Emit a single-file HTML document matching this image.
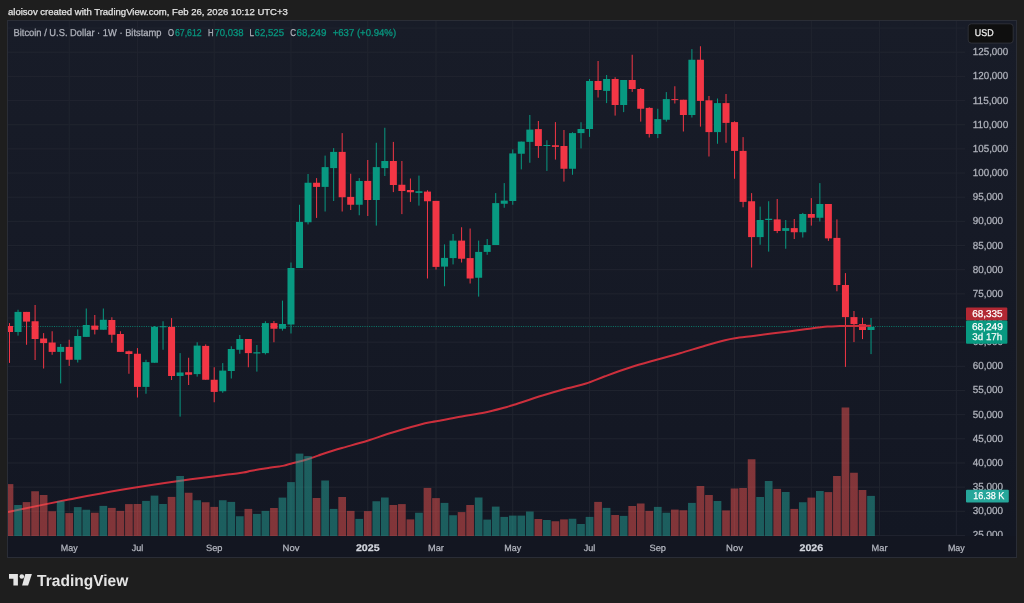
<!DOCTYPE html>
<html><head><meta charset="utf-8"><title>BTCUSD 1W</title>
<style>
html,body{margin:0;padding:0;background:#1e1e1e;}
body{width:1024px;height:603px;overflow:hidden;position:relative;font-family:"Liberation Sans",sans-serif;}
#title{position:absolute;left:8px;top:5.6px;font-size:9.54px;line-height:12px;color:#e4e4e4;white-space:nowrap;will-change:transform;-webkit-text-stroke:0.25px #e4e4e4;}
#chart{position:absolute;left:7px;top:20px;width:1008px;height:536px;border:1px solid #2a2d36;background:#131621;}
#pane{position:absolute;left:0;top:0;width:957px;height:515px;background:linear-gradient(#181c28,#131723);}
#paxis{position:absolute;left:957px;top:0;width:51px;height:515px;background:linear-gradient(#181c28,#131723);}
svg{position:absolute;left:0;top:0;will-change:transform;}
text{font-family:"Liberation Sans",sans-serif;text-rendering:geometricPrecision;}
</style></head><body>
<div id="title">aloisov created with TradingView.com, Feb 26, 2026 10:12 UTC+3</div>
<div id="chart"><div id="pane"></div><div id="paxis"></div></div>
<svg width="1024" height="603" viewBox="0 0 1024 603">
<defs><clipPath id="cp"><rect x="8" y="21" width="957" height="515"/></clipPath></defs>
<g stroke="#20242f" stroke-width="1" clip-path="url(#cp)">
<line x1="8" x2="965" y1="28.09" y2="28.09"/>
<line x1="8" x2="965" y1="52.25" y2="52.25"/>
<line x1="8" x2="965" y1="76.41" y2="76.41"/>
<line x1="8" x2="965" y1="100.57" y2="100.57"/>
<line x1="8" x2="965" y1="124.73" y2="124.73"/>
<line x1="8" x2="965" y1="148.89" y2="148.89"/>
<line x1="8" x2="965" y1="173.05" y2="173.05"/>
<line x1="8" x2="965" y1="197.21" y2="197.21"/>
<line x1="8" x2="965" y1="221.37" y2="221.37"/>
<line x1="8" x2="965" y1="245.53" y2="245.53"/>
<line x1="8" x2="965" y1="269.69" y2="269.69"/>
<line x1="8" x2="965" y1="293.85" y2="293.85"/>
<line x1="8" x2="965" y1="318.01" y2="318.01"/>
<line x1="8" x2="965" y1="342.17" y2="342.17"/>
<line x1="8" x2="965" y1="366.33" y2="366.33"/>
<line x1="8" x2="965" y1="390.49" y2="390.49"/>
<line x1="8" x2="965" y1="414.65" y2="414.65"/>
<line x1="8" x2="965" y1="438.81" y2="438.81"/>
<line x1="8" x2="965" y1="462.97" y2="462.97"/>
<line x1="8" x2="965" y1="487.13" y2="487.13"/>
<line x1="8" x2="965" y1="511.29" y2="511.29"/>
<line x1="8" x2="965" y1="535.45" y2="535.45"/>
<line x1="69.21" x2="69.21" y1="21" y2="536"/>
<line x1="137.45" x2="137.45" y1="21" y2="536"/>
<line x1="214.22" x2="214.22" y1="21" y2="536"/>
<line x1="290.99" x2="290.99" y1="21" y2="536"/>
<line x1="367.76" x2="367.76" y1="21" y2="536"/>
<line x1="436.00" x2="436.00" y1="21" y2="536"/>
<line x1="512.77" x2="512.77" y1="21" y2="536"/>
<line x1="589.54" x2="589.54" y1="21" y2="536"/>
<line x1="657.78" x2="657.78" y1="21" y2="536"/>
<line x1="734.55" x2="734.55" y1="21" y2="536"/>
<line x1="811.32" x2="811.32" y1="21" y2="536"/>
<line x1="879.56" x2="879.56" y1="21" y2="536"/>
<line x1="956.33" x2="956.33" y1="21" y2="536"/>
</g>
<line x1="8" x2="965" y1="326.5" y2="326.5" stroke="#089981" stroke-opacity="0.75" stroke-width="1" stroke-dasharray="1 1.3"/>
<g clip-path="url(#cp)">
<rect x="9.00" y="323.10" width="1" height="39.80" fill="#f23645"/><rect x="6.00" y="326.00" width="7" height="6.00" fill="#f23645"/>
<rect x="17.53" y="309.75" width="1" height="25.85" fill="#089981"/><rect x="14.53" y="311.90" width="7" height="20.10" fill="#089981"/>
<rect x="26.06" y="311.90" width="1" height="32.85" fill="#f23645"/><rect x="23.06" y="311.90" width="7" height="9.70" fill="#f23645"/>
<rect x="34.59" y="305.00" width="1" height="55.00" fill="#f23645"/><rect x="31.59" y="321.25" width="7" height="17.75" fill="#f23645"/>
<rect x="43.12" y="333.10" width="1" height="35.40" fill="#f23645"/><rect x="40.12" y="338.50" width="7" height="4.60" fill="#f23645"/>
<rect x="51.65" y="331.25" width="1" height="23.50" fill="#f23645"/><rect x="48.65" y="342.50" width="7" height="9.40" fill="#f23645"/>
<rect x="60.18" y="344.00" width="1" height="39.40" fill="#089981"/><rect x="57.18" y="346.90" width="7" height="5.00" fill="#089981"/>
<rect x="68.71" y="339.75" width="1" height="26.15" fill="#f23645"/><rect x="65.71" y="346.90" width="7" height="12.85" fill="#f23645"/>
<rect x="77.24" y="329.40" width="1" height="33.10" fill="#089981"/><rect x="74.24" y="336.00" width="7" height="23.75" fill="#089981"/>
<rect x="85.77" y="308.50" width="1" height="28.40" fill="#089981"/><rect x="82.77" y="325.00" width="7" height="11.90" fill="#089981"/>
<rect x="94.30" y="315.00" width="1" height="19.40" fill="#f23645"/><rect x="91.30" y="325.60" width="7" height="4.15" fill="#f23645"/>
<rect x="102.83" y="308.50" width="1" height="21.25" fill="#089981"/><rect x="99.83" y="319.75" width="7" height="10.00" fill="#089981"/>
<rect x="111.36" y="317.25" width="1" height="25.50" fill="#f23645"/><rect x="108.36" y="320.00" width="7" height="14.75" fill="#f23645"/>
<rect x="119.89" y="331.25" width="1" height="20.65" fill="#f23645"/><rect x="116.89" y="334.00" width="7" height="17.90" fill="#f23645"/>
<rect x="128.42" y="350.60" width="1" height="23.15" fill="#f23645"/><rect x="125.42" y="351.25" width="7" height="2.75" fill="#f23645"/>
<rect x="136.95" y="348.10" width="1" height="49.40" fill="#f23645"/><rect x="133.95" y="353.75" width="7" height="33.15" fill="#f23645"/>
<rect x="145.48" y="359.75" width="1" height="34.00" fill="#089981"/><rect x="142.48" y="362.10" width="7" height="24.80" fill="#089981"/>
<rect x="154.01" y="326.00" width="1" height="36.75" fill="#089981"/><rect x="151.01" y="326.90" width="7" height="35.85" fill="#089981"/>
<rect x="162.54" y="321.25" width="1" height="28.50" fill="#089981"/><rect x="159.54" y="326.25" width="7" height="1.00" fill="#089981"/>
<rect x="171.07" y="318.10" width="1" height="61.90" fill="#f23645"/><rect x="168.07" y="326.90" width="7" height="49.10" fill="#f23645"/>
<rect x="179.60" y="353.10" width="1" height="63.50" fill="#089981"/><rect x="176.60" y="372.50" width="7" height="3.50" fill="#089981"/>
<rect x="188.13" y="357.75" width="1" height="27.25" fill="#f23645"/><rect x="185.13" y="372.25" width="7" height="2.50" fill="#f23645"/>
<rect x="196.66" y="342.25" width="1" height="34.35" fill="#089981"/><rect x="193.66" y="345.60" width="7" height="28.50" fill="#089981"/>
<rect x="205.19" y="344.40" width="1" height="35.35" fill="#f23645"/><rect x="202.19" y="345.90" width="7" height="33.85" fill="#f23645"/>
<rect x="213.72" y="367.25" width="1" height="35.00" fill="#f23645"/><rect x="210.72" y="379.75" width="7" height="12.15" fill="#f23645"/>
<rect x="222.25" y="363.10" width="1" height="29.65" fill="#089981"/><rect x="219.25" y="370.60" width="7" height="20.65" fill="#089981"/>
<rect x="230.78" y="346.25" width="1" height="32.25" fill="#089981"/><rect x="227.78" y="349.00" width="7" height="22.00" fill="#089981"/>
<rect x="239.31" y="335.00" width="1" height="18.75" fill="#089981"/><rect x="236.31" y="339.00" width="7" height="10.75" fill="#089981"/>
<rect x="247.84" y="339.00" width="1" height="28.25" fill="#f23645"/><rect x="244.84" y="339.00" width="7" height="14.10" fill="#f23645"/>
<rect x="256.37" y="345.00" width="1" height="26.60" fill="#089981"/><rect x="253.37" y="352.25" width="7" height="1.25" fill="#089981"/>
<rect x="264.90" y="321.25" width="1" height="33.15" fill="#089981"/><rect x="261.90" y="323.10" width="7" height="30.00" fill="#089981"/>
<rect x="273.43" y="321.00" width="1" height="21.25" fill="#f23645"/><rect x="270.43" y="323.10" width="7" height="5.65" fill="#f23645"/>
<rect x="281.96" y="300.60" width="1" height="30.00" fill="#089981"/><rect x="278.96" y="324.00" width="7" height="4.75" fill="#089981"/>
<rect x="290.49" y="262.50" width="1" height="71.00" fill="#089981"/><rect x="287.49" y="268.00" width="7" height="56.50" fill="#089981"/>
<rect x="299.02" y="204.75" width="1" height="63.25" fill="#089981"/><rect x="296.02" y="221.90" width="7" height="46.10" fill="#089981"/>
<rect x="307.55" y="174.00" width="1" height="50.40" fill="#089981"/><rect x="304.55" y="182.75" width="7" height="39.50" fill="#089981"/>
<rect x="316.08" y="178.10" width="1" height="39.80" fill="#f23645"/><rect x="313.08" y="182.75" width="7" height="4.15" fill="#f23645"/>
<rect x="324.61" y="155.60" width="1" height="55.90" fill="#089981"/><rect x="321.61" y="167.10" width="7" height="19.80" fill="#089981"/>
<rect x="333.14" y="148.10" width="1" height="52.90" fill="#089981"/><rect x="330.14" y="151.90" width="7" height="16.20" fill="#089981"/>
<rect x="341.67" y="133.10" width="1" height="78.40" fill="#f23645"/><rect x="338.67" y="151.90" width="7" height="45.35" fill="#f23645"/>
<rect x="350.20" y="173.75" width="1" height="36.25" fill="#f23645"/><rect x="347.20" y="196.90" width="7" height="7.85" fill="#f23645"/>
<rect x="358.73" y="178.10" width="1" height="37.15" fill="#089981"/><rect x="355.73" y="181.00" width="7" height="23.75" fill="#089981"/>
<rect x="367.26" y="160.00" width="1" height="56.00" fill="#f23645"/><rect x="364.26" y="180.90" width="7" height="19.10" fill="#f23645"/>
<rect x="375.79" y="142.75" width="1" height="82.85" fill="#089981"/><rect x="372.79" y="167.10" width="7" height="32.90" fill="#089981"/>
<rect x="384.32" y="127.75" width="1" height="48.25" fill="#089981"/><rect x="381.32" y="161.00" width="7" height="7.10" fill="#089981"/>
<rect x="392.85" y="141.90" width="1" height="50.20" fill="#f23645"/><rect x="389.85" y="161.00" width="7" height="24.00" fill="#f23645"/>
<rect x="401.38" y="161.00" width="1" height="53.10" fill="#f23645"/><rect x="398.38" y="184.75" width="7" height="6.25" fill="#f23645"/>
<rect x="409.91" y="178.50" width="1" height="23.40" fill="#f23645"/><rect x="406.91" y="190.00" width="7" height="2.25" fill="#f23645"/>
<rect x="418.44" y="175.60" width="1" height="30.00" fill="#089981"/><rect x="415.44" y="191.25" width="7" height="1.65" fill="#089981"/>
<rect x="426.97" y="190.25" width="1" height="88.25" fill="#f23645"/><rect x="423.97" y="191.60" width="7" height="9.65" fill="#f23645"/>
<rect x="435.50" y="200.90" width="1" height="68.70" fill="#f23645"/><rect x="432.50" y="200.90" width="7" height="66.00" fill="#f23645"/>
<rect x="444.03" y="244.40" width="1" height="41.85" fill="#089981"/><rect x="441.03" y="257.90" width="7" height="8.70" fill="#089981"/>
<rect x="452.56" y="234.00" width="1" height="30.40" fill="#089981"/><rect x="449.56" y="240.60" width="7" height="17.50" fill="#089981"/>
<rect x="461.09" y="227.25" width="1" height="35.25" fill="#f23645"/><rect x="458.09" y="240.60" width="7" height="18.15" fill="#f23645"/>
<rect x="469.62" y="228.50" width="1" height="55.00" fill="#f23645"/><rect x="466.62" y="258.10" width="7" height="20.40" fill="#f23645"/>
<rect x="478.15" y="240.60" width="1" height="56.00" fill="#089981"/><rect x="475.15" y="251.90" width="7" height="25.85" fill="#089981"/>
<rect x="486.68" y="239.00" width="1" height="15.75" fill="#089981"/><rect x="483.68" y="245.00" width="7" height="6.90" fill="#089981"/>
<rect x="495.21" y="193.10" width="1" height="51.90" fill="#089981"/><rect x="492.21" y="203.10" width="7" height="41.90" fill="#089981"/>
<rect x="503.74" y="183.10" width="1" height="24.65" fill="#089981"/><rect x="500.74" y="200.60" width="7" height="3.15" fill="#089981"/>
<rect x="512.27" y="149.40" width="1" height="55.35" fill="#089981"/><rect x="509.27" y="153.40" width="7" height="47.60" fill="#089981"/>
<rect x="520.80" y="141.60" width="1" height="27.80" fill="#089981"/><rect x="517.80" y="141.60" width="7" height="12.15" fill="#089981"/>
<rect x="529.33" y="115.00" width="1" height="47.75" fill="#089981"/><rect x="526.33" y="129.60" width="7" height="12.30" fill="#089981"/>
<rect x="537.86" y="121.00" width="1" height="36.90" fill="#f23645"/><rect x="534.86" y="129.10" width="7" height="16.90" fill="#f23645"/>
<rect x="546.39" y="140.25" width="1" height="30.65" fill="#089981"/><rect x="543.39" y="145.00" width="7" height="1.00" fill="#089981"/>
<rect x="554.92" y="122.10" width="1" height="37.50" fill="#f23645"/><rect x="551.92" y="145.25" width="7" height="1.65" fill="#f23645"/>
<rect x="563.45" y="130.00" width="1" height="51.60" fill="#f23645"/><rect x="560.45" y="146.00" width="7" height="22.75" fill="#f23645"/>
<rect x="571.98" y="132.25" width="1" height="42.50" fill="#089981"/><rect x="568.98" y="133.10" width="7" height="35.65" fill="#089981"/>
<rect x="580.51" y="122.25" width="1" height="26.15" fill="#089981"/><rect x="577.51" y="129.00" width="7" height="4.10" fill="#089981"/>
<rect x="589.04" y="79.00" width="1" height="57.90" fill="#089981"/><rect x="586.04" y="81.00" width="7" height="48.00" fill="#089981"/>
<rect x="597.57" y="61.00" width="1" height="36.50" fill="#f23645"/><rect x="594.57" y="81.00" width="7" height="9.00" fill="#f23645"/>
<rect x="606.10" y="75.00" width="1" height="28.10" fill="#089981"/><rect x="603.10" y="79.00" width="7" height="11.90" fill="#089981"/>
<rect x="614.63" y="77.25" width="1" height="38.35" fill="#f23645"/><rect x="611.63" y="79.00" width="7" height="26.00" fill="#f23645"/>
<rect x="623.16" y="80.00" width="1" height="32.10" fill="#089981"/><rect x="620.16" y="80.00" width="7" height="25.00" fill="#089981"/>
<rect x="631.69" y="54.75" width="1" height="37.15" fill="#f23645"/><rect x="628.69" y="80.00" width="7" height="9.00" fill="#f23645"/>
<rect x="640.22" y="88.10" width="1" height="33.50" fill="#f23645"/><rect x="637.22" y="89.00" width="7" height="19.75" fill="#f23645"/>
<rect x="648.75" y="107.25" width="1" height="30.25" fill="#f23645"/><rect x="645.75" y="107.90" width="7" height="26.10" fill="#f23645"/>
<rect x="657.28" y="108.75" width="1" height="29.35" fill="#089981"/><rect x="654.28" y="119.10" width="7" height="14.90" fill="#089981"/>
<rect x="665.81" y="92.10" width="1" height="29.50" fill="#089981"/><rect x="662.81" y="99.10" width="7" height="20.65" fill="#089981"/>
<rect x="674.34" y="86.25" width="1" height="17.25" fill="#f23645"/><rect x="671.34" y="99.10" width="7" height="1.00" fill="#f23645"/>
<rect x="682.87" y="99.75" width="1" height="31.75" fill="#f23645"/><rect x="679.87" y="99.75" width="7" height="15.25" fill="#f23645"/>
<rect x="691.40" y="49.10" width="1" height="68.40" fill="#089981"/><rect x="688.40" y="59.75" width="7" height="55.25" fill="#089981"/>
<rect x="699.93" y="46.25" width="1" height="80.35" fill="#f23645"/><rect x="696.93" y="59.75" width="7" height="41.15" fill="#f23645"/>
<rect x="708.46" y="96.00" width="1" height="60.50" fill="#f23645"/><rect x="705.46" y="100.30" width="7" height="31.80" fill="#f23645"/>
<rect x="716.99" y="98.50" width="1" height="45.25" fill="#089981"/><rect x="713.99" y="103.10" width="7" height="29.00" fill="#089981"/>
<rect x="725.52" y="94.00" width="1" height="48.75" fill="#f23645"/><rect x="722.52" y="103.10" width="7" height="19.80" fill="#f23645"/>
<rect x="734.05" y="121.25" width="1" height="57.50" fill="#f23645"/><rect x="731.05" y="122.10" width="7" height="28.80" fill="#f23645"/>
<rect x="742.58" y="137.10" width="1" height="70.15" fill="#f23645"/><rect x="739.58" y="150.90" width="7" height="51.00" fill="#f23645"/>
<rect x="751.11" y="193.10" width="1" height="74.40" fill="#f23645"/><rect x="748.11" y="201.25" width="7" height="35.85" fill="#f23645"/>
<rect x="759.64" y="206.60" width="1" height="38.15" fill="#089981"/><rect x="756.64" y="220.00" width="7" height="17.10" fill="#089981"/>
<rect x="768.17" y="201.25" width="1" height="50.35" fill="#089981"/><rect x="765.17" y="218.75" width="7" height="1.25" fill="#089981"/>
<rect x="776.70" y="199.00" width="1" height="34.10" fill="#f23645"/><rect x="773.70" y="219.40" width="7" height="11.60" fill="#f23645"/>
<rect x="785.23" y="220.00" width="1" height="28.75" fill="#089981"/><rect x="782.23" y="228.10" width="7" height="2.80" fill="#089981"/>
<rect x="793.76" y="219.00" width="1" height="20.00" fill="#f23645"/><rect x="790.76" y="228.10" width="7" height="4.15" fill="#f23645"/>
<rect x="802.29" y="212.90" width="1" height="24.60" fill="#089981"/><rect x="799.29" y="214.00" width="7" height="18.25" fill="#089981"/>
<rect x="810.82" y="198.10" width="1" height="27.50" fill="#f23645"/><rect x="807.82" y="214.00" width="7" height="3.75" fill="#f23645"/>
<rect x="819.35" y="183.10" width="1" height="38.40" fill="#089981"/><rect x="816.35" y="204.00" width="7" height="13.75" fill="#089981"/>
<rect x="827.88" y="204.00" width="1" height="36.90" fill="#f23645"/><rect x="824.88" y="204.00" width="7" height="34.40" fill="#f23645"/>
<rect x="836.41" y="219.40" width="1" height="71.85" fill="#f23645"/><rect x="833.41" y="237.90" width="7" height="47.10" fill="#f23645"/>
<rect x="844.94" y="273.10" width="1" height="93.80" fill="#f23645"/><rect x="841.94" y="285.00" width="7" height="32.10" fill="#f23645"/>
<rect x="853.47" y="311.00" width="1" height="31.10" fill="#f23645"/><rect x="850.47" y="317.10" width="7" height="7.00" fill="#f23645"/>
<rect x="862.00" y="317.75" width="1" height="21.35" fill="#f23645"/><rect x="859.00" y="324.10" width="7" height="5.90" fill="#f23645"/>
<rect x="870.53" y="318.00" width="1" height="36.10" fill="#089981"/><rect x="867.53" y="326.90" width="7" height="3.10" fill="#089981"/>
<path d="M8.00 511.90C18.12 509.85 50.08 503.25 68.75 499.60C87.42 495.95 100.79 493.23 120.00 490.00C139.21 486.77 164.00 483.08 184.00 480.25C204.00 477.42 229.03 474.53 240.00 473.00C250.97 471.47 246.55 471.67 249.80 471.05C253.05 470.43 256.25 469.84 259.50 469.30C262.75 468.76 266.05 468.28 269.30 467.80C272.55 467.32 276.55 466.77 279.00 466.40C281.45 466.03 282.03 466.05 284.00 465.60C285.97 465.15 288.37 464.35 290.80 463.70C293.23 463.05 295.67 462.48 298.60 461.70C301.53 460.92 305.15 460.02 308.40 459.00C311.65 457.98 314.85 456.73 318.10 455.60C321.35 454.47 323.92 453.47 327.90 452.20C331.88 450.93 335.40 449.91 342.00 448.00C348.60 446.09 359.08 443.33 367.50 440.75C375.92 438.17 382.92 435.42 392.50 432.50C402.08 429.58 417.71 425.12 425.00 423.25C432.29 421.38 430.42 422.33 436.25 421.25C442.08 420.17 451.88 418.21 460.00 416.75C468.12 415.29 477.50 414.04 485.00 412.50C492.50 410.96 500.42 408.71 505.00 407.50C509.58 406.29 506.25 407.25 512.50 405.25C518.75 403.25 533.33 398.33 542.50 395.50C551.67 392.67 560.25 390.25 567.50 388.25C574.75 386.25 579.75 385.50 586.00 383.50C592.25 381.50 597.67 378.92 605.00 376.25C612.33 373.58 621.25 370.29 630.00 367.50C638.75 364.71 649.17 361.88 657.50 359.50C665.83 357.12 672.08 355.54 680.00 353.25C687.92 350.96 697.50 347.92 705.00 345.75C712.50 343.58 720.00 341.50 725.00 340.25C730.00 339.00 730.00 339.00 735.00 338.25C740.00 337.50 747.50 336.71 755.00 335.75C762.50 334.79 771.67 333.58 780.00 332.50C788.33 331.42 797.08 330.23 805.00 329.25C812.92 328.27 821.67 327.12 827.50 326.60C833.33 326.08 832.75 326.23 840.00 326.10C847.25 325.97 865.83 325.85 871.00 325.80" fill="none" stroke="#cc2f3c" stroke-width="2" stroke-linejoin="round" stroke-linecap="butt"/>
<rect x="5.65" y="484.10" width="7.7" height="51.90" fill="#ef5350" fill-opacity="0.5"/>
<rect x="14.18" y="505.00" width="7.7" height="31.00" fill="#26a69a" fill-opacity="0.5"/>
<rect x="22.71" y="502.10" width="7.7" height="33.90" fill="#ef5350" fill-opacity="0.5"/>
<rect x="31.24" y="491.25" width="7.7" height="44.75" fill="#ef5350" fill-opacity="0.5"/>
<rect x="39.77" y="495.00" width="7.7" height="41.00" fill="#ef5350" fill-opacity="0.5"/>
<rect x="48.30" y="511.25" width="7.7" height="24.75" fill="#ef5350" fill-opacity="0.5"/>
<rect x="56.83" y="501.25" width="7.7" height="34.75" fill="#26a69a" fill-opacity="0.5"/>
<rect x="65.36" y="513.10" width="7.7" height="22.90" fill="#ef5350" fill-opacity="0.5"/>
<rect x="73.89" y="507.10" width="7.7" height="28.90" fill="#26a69a" fill-opacity="0.5"/>
<rect x="82.42" y="509.75" width="7.7" height="26.25" fill="#26a69a" fill-opacity="0.5"/>
<rect x="90.95" y="512.75" width="7.7" height="23.25" fill="#ef5350" fill-opacity="0.5"/>
<rect x="99.48" y="505.90" width="7.7" height="30.10" fill="#26a69a" fill-opacity="0.5"/>
<rect x="108.01" y="507.90" width="7.7" height="28.10" fill="#ef5350" fill-opacity="0.5"/>
<rect x="116.54" y="510.90" width="7.7" height="25.10" fill="#ef5350" fill-opacity="0.5"/>
<rect x="125.07" y="504.10" width="7.7" height="31.90" fill="#ef5350" fill-opacity="0.5"/>
<rect x="133.60" y="504.00" width="7.7" height="32.00" fill="#ef5350" fill-opacity="0.5"/>
<rect x="142.13" y="500.90" width="7.7" height="35.10" fill="#26a69a" fill-opacity="0.5"/>
<rect x="150.66" y="495.60" width="7.7" height="40.40" fill="#26a69a" fill-opacity="0.5"/>
<rect x="159.19" y="504.00" width="7.7" height="32.00" fill="#26a69a" fill-opacity="0.5"/>
<rect x="167.72" y="496.90" width="7.7" height="39.10" fill="#ef5350" fill-opacity="0.5"/>
<rect x="176.25" y="476.00" width="7.7" height="60.00" fill="#26a69a" fill-opacity="0.5"/>
<rect x="184.78" y="492.75" width="7.7" height="43.25" fill="#ef5350" fill-opacity="0.5"/>
<rect x="193.31" y="500.25" width="7.7" height="35.75" fill="#26a69a" fill-opacity="0.5"/>
<rect x="201.84" y="502.25" width="7.7" height="33.75" fill="#ef5350" fill-opacity="0.5"/>
<rect x="210.37" y="506.90" width="7.7" height="29.10" fill="#ef5350" fill-opacity="0.5"/>
<rect x="218.90" y="500.25" width="7.7" height="35.75" fill="#26a69a" fill-opacity="0.5"/>
<rect x="227.43" y="501.90" width="7.7" height="34.10" fill="#26a69a" fill-opacity="0.5"/>
<rect x="235.96" y="516.25" width="7.7" height="19.75" fill="#26a69a" fill-opacity="0.5"/>
<rect x="244.49" y="508.90" width="7.7" height="27.10" fill="#ef5350" fill-opacity="0.5"/>
<rect x="253.02" y="513.90" width="7.7" height="22.10" fill="#26a69a" fill-opacity="0.5"/>
<rect x="261.55" y="510.90" width="7.7" height="25.10" fill="#26a69a" fill-opacity="0.5"/>
<rect x="270.08" y="508.00" width="7.7" height="28.00" fill="#ef5350" fill-opacity="0.5"/>
<rect x="278.61" y="497.60" width="7.7" height="38.40" fill="#26a69a" fill-opacity="0.5"/>
<rect x="287.14" y="482.10" width="7.7" height="53.90" fill="#26a69a" fill-opacity="0.5"/>
<rect x="295.67" y="453.60" width="7.7" height="82.40" fill="#26a69a" fill-opacity="0.5"/>
<rect x="304.20" y="456.10" width="7.7" height="79.90" fill="#26a69a" fill-opacity="0.5"/>
<rect x="312.73" y="498.00" width="7.7" height="38.00" fill="#ef5350" fill-opacity="0.5"/>
<rect x="321.26" y="480.50" width="7.7" height="55.50" fill="#26a69a" fill-opacity="0.5"/>
<rect x="329.79" y="508.90" width="7.7" height="27.10" fill="#26a69a" fill-opacity="0.5"/>
<rect x="338.32" y="497.00" width="7.7" height="39.00" fill="#ef5350" fill-opacity="0.5"/>
<rect x="346.85" y="510.90" width="7.7" height="25.10" fill="#ef5350" fill-opacity="0.5"/>
<rect x="355.38" y="518.90" width="7.7" height="17.10" fill="#26a69a" fill-opacity="0.5"/>
<rect x="363.91" y="511.10" width="7.7" height="24.90" fill="#ef5350" fill-opacity="0.5"/>
<rect x="372.44" y="501.25" width="7.7" height="34.75" fill="#26a69a" fill-opacity="0.5"/>
<rect x="380.97" y="497.50" width="7.7" height="38.50" fill="#26a69a" fill-opacity="0.5"/>
<rect x="389.50" y="505.00" width="7.7" height="31.00" fill="#ef5350" fill-opacity="0.5"/>
<rect x="398.03" y="504.10" width="7.7" height="31.90" fill="#ef5350" fill-opacity="0.5"/>
<rect x="406.56" y="519.40" width="7.7" height="16.60" fill="#ef5350" fill-opacity="0.5"/>
<rect x="415.09" y="512.75" width="7.7" height="23.25" fill="#26a69a" fill-opacity="0.5"/>
<rect x="423.62" y="487.90" width="7.7" height="48.10" fill="#ef5350" fill-opacity="0.5"/>
<rect x="432.15" y="498.10" width="7.7" height="37.90" fill="#ef5350" fill-opacity="0.5"/>
<rect x="440.68" y="502.90" width="7.7" height="33.10" fill="#26a69a" fill-opacity="0.5"/>
<rect x="449.21" y="515.25" width="7.7" height="20.75" fill="#26a69a" fill-opacity="0.5"/>
<rect x="457.74" y="512.10" width="7.7" height="23.90" fill="#ef5350" fill-opacity="0.5"/>
<rect x="466.27" y="505.00" width="7.7" height="31.00" fill="#ef5350" fill-opacity="0.5"/>
<rect x="474.80" y="497.50" width="7.7" height="38.50" fill="#26a69a" fill-opacity="0.5"/>
<rect x="483.33" y="519.60" width="7.7" height="16.40" fill="#26a69a" fill-opacity="0.5"/>
<rect x="491.86" y="506.60" width="7.7" height="29.40" fill="#26a69a" fill-opacity="0.5"/>
<rect x="500.39" y="516.90" width="7.7" height="19.10" fill="#26a69a" fill-opacity="0.5"/>
<rect x="508.92" y="515.60" width="7.7" height="20.40" fill="#26a69a" fill-opacity="0.5"/>
<rect x="517.45" y="515.60" width="7.7" height="20.40" fill="#26a69a" fill-opacity="0.5"/>
<rect x="525.98" y="511.50" width="7.7" height="24.50" fill="#26a69a" fill-opacity="0.5"/>
<rect x="534.51" y="519.00" width="7.7" height="17.00" fill="#ef5350" fill-opacity="0.5"/>
<rect x="543.04" y="520.00" width="7.7" height="16.00" fill="#26a69a" fill-opacity="0.5"/>
<rect x="551.57" y="521.25" width="7.7" height="14.75" fill="#ef5350" fill-opacity="0.5"/>
<rect x="560.10" y="519.40" width="7.7" height="16.60" fill="#ef5350" fill-opacity="0.5"/>
<rect x="568.63" y="518.75" width="7.7" height="17.25" fill="#26a69a" fill-opacity="0.5"/>
<rect x="577.16" y="524.00" width="7.7" height="12.00" fill="#26a69a" fill-opacity="0.5"/>
<rect x="585.69" y="516.90" width="7.7" height="19.10" fill="#26a69a" fill-opacity="0.5"/>
<rect x="594.22" y="501.90" width="7.7" height="34.10" fill="#ef5350" fill-opacity="0.5"/>
<rect x="602.75" y="507.90" width="7.7" height="28.10" fill="#26a69a" fill-opacity="0.5"/>
<rect x="611.28" y="515.00" width="7.7" height="21.00" fill="#ef5350" fill-opacity="0.5"/>
<rect x="619.81" y="515.90" width="7.7" height="20.10" fill="#26a69a" fill-opacity="0.5"/>
<rect x="628.34" y="506.00" width="7.7" height="30.00" fill="#ef5350" fill-opacity="0.5"/>
<rect x="636.87" y="503.50" width="7.7" height="32.50" fill="#ef5350" fill-opacity="0.5"/>
<rect x="645.40" y="510.90" width="7.7" height="25.10" fill="#ef5350" fill-opacity="0.5"/>
<rect x="653.93" y="506.90" width="7.7" height="29.10" fill="#26a69a" fill-opacity="0.5"/>
<rect x="662.46" y="512.75" width="7.7" height="23.25" fill="#26a69a" fill-opacity="0.5"/>
<rect x="670.99" y="509.60" width="7.7" height="26.40" fill="#ef5350" fill-opacity="0.5"/>
<rect x="679.52" y="510.25" width="7.7" height="25.75" fill="#ef5350" fill-opacity="0.5"/>
<rect x="688.05" y="502.90" width="7.7" height="33.10" fill="#26a69a" fill-opacity="0.5"/>
<rect x="696.58" y="486.00" width="7.7" height="50.00" fill="#ef5350" fill-opacity="0.5"/>
<rect x="705.11" y="495.00" width="7.7" height="41.00" fill="#ef5350" fill-opacity="0.5"/>
<rect x="713.64" y="501.00" width="7.7" height="35.00" fill="#26a69a" fill-opacity="0.5"/>
<rect x="722.17" y="510.40" width="7.7" height="25.60" fill="#ef5350" fill-opacity="0.5"/>
<rect x="730.70" y="488.50" width="7.7" height="47.50" fill="#ef5350" fill-opacity="0.5"/>
<rect x="739.23" y="488.00" width="7.7" height="48.00" fill="#ef5350" fill-opacity="0.5"/>
<rect x="747.76" y="459.25" width="7.7" height="76.75" fill="#ef5350" fill-opacity="0.5"/>
<rect x="756.29" y="497.00" width="7.7" height="39.00" fill="#26a69a" fill-opacity="0.5"/>
<rect x="764.82" y="481.00" width="7.7" height="55.00" fill="#26a69a" fill-opacity="0.5"/>
<rect x="773.35" y="488.90" width="7.7" height="47.10" fill="#ef5350" fill-opacity="0.5"/>
<rect x="781.88" y="492.00" width="7.7" height="44.00" fill="#26a69a" fill-opacity="0.5"/>
<rect x="790.41" y="508.90" width="7.7" height="27.10" fill="#ef5350" fill-opacity="0.5"/>
<rect x="798.94" y="502.25" width="7.7" height="33.75" fill="#26a69a" fill-opacity="0.5"/>
<rect x="807.47" y="497.60" width="7.7" height="38.40" fill="#ef5350" fill-opacity="0.5"/>
<rect x="816.00" y="491.00" width="7.7" height="45.00" fill="#26a69a" fill-opacity="0.5"/>
<rect x="824.53" y="492.10" width="7.7" height="43.90" fill="#ef5350" fill-opacity="0.5"/>
<rect x="833.06" y="476.00" width="7.7" height="60.00" fill="#ef5350" fill-opacity="0.5"/>
<rect x="841.59" y="407.50" width="7.7" height="128.50" fill="#ef5350" fill-opacity="0.5"/>
<rect x="850.12" y="472.75" width="7.7" height="63.25" fill="#ef5350" fill-opacity="0.5"/>
<rect x="858.65" y="490.00" width="7.7" height="46.00" fill="#ef5350" fill-opacity="0.5"/>
<rect x="867.18" y="495.90" width="7.7" height="40.10" fill="#26a69a" fill-opacity="0.5"/>
</g>
<text x="972.80" y="55.25" font-size="10.2" fill="#b2b5be" stroke="#b2b5be" stroke-width="0.25" textLength="35.4" lengthAdjust="spacingAndGlyphs">125,000</text>
<text x="972.80" y="79.41" font-size="10.2" fill="#b2b5be" stroke="#b2b5be" stroke-width="0.25" textLength="35.4" lengthAdjust="spacingAndGlyphs">120,000</text>
<text x="972.80" y="103.57" font-size="10.2" fill="#b2b5be" stroke="#b2b5be" stroke-width="0.25" textLength="35.4" lengthAdjust="spacingAndGlyphs">115,000</text>
<text x="972.80" y="127.73" font-size="10.2" fill="#b2b5be" stroke="#b2b5be" stroke-width="0.25" textLength="35.4" lengthAdjust="spacingAndGlyphs">110,000</text>
<text x="972.80" y="151.89" font-size="10.2" fill="#b2b5be" stroke="#b2b5be" stroke-width="0.25" textLength="35.4" lengthAdjust="spacingAndGlyphs">105,000</text>
<text x="972.80" y="176.05" font-size="10.2" fill="#b2b5be" stroke="#b2b5be" stroke-width="0.25" textLength="35.4" lengthAdjust="spacingAndGlyphs">100,000</text>
<text x="972.80" y="200.21" font-size="10.2" fill="#b2b5be" stroke="#b2b5be" stroke-width="0.25" textLength="30.3" lengthAdjust="spacingAndGlyphs">95,000</text>
<text x="972.80" y="224.37" font-size="10.2" fill="#b2b5be" stroke="#b2b5be" stroke-width="0.25" textLength="30.3" lengthAdjust="spacingAndGlyphs">90,000</text>
<text x="972.80" y="248.53" font-size="10.2" fill="#b2b5be" stroke="#b2b5be" stroke-width="0.25" textLength="30.3" lengthAdjust="spacingAndGlyphs">85,000</text>
<text x="972.80" y="272.69" font-size="10.2" fill="#b2b5be" stroke="#b2b5be" stroke-width="0.25" textLength="30.3" lengthAdjust="spacingAndGlyphs">80,000</text>
<text x="972.80" y="296.85" font-size="10.2" fill="#b2b5be" stroke="#b2b5be" stroke-width="0.25" textLength="30.3" lengthAdjust="spacingAndGlyphs">75,000</text>
<text x="972.80" y="321.01" font-size="10.2" fill="#b2b5be" stroke="#b2b5be" stroke-width="0.25" textLength="30.3" lengthAdjust="spacingAndGlyphs">70,000</text>
<text x="972.80" y="345.17" font-size="10.2" fill="#b2b5be" stroke="#b2b5be" stroke-width="0.25" textLength="30.3" lengthAdjust="spacingAndGlyphs">65,000</text>
<text x="972.80" y="369.33" font-size="10.2" fill="#b2b5be" stroke="#b2b5be" stroke-width="0.25" textLength="30.3" lengthAdjust="spacingAndGlyphs">60,000</text>
<text x="972.80" y="393.49" font-size="10.2" fill="#b2b5be" stroke="#b2b5be" stroke-width="0.25" textLength="30.3" lengthAdjust="spacingAndGlyphs">55,000</text>
<text x="972.80" y="417.65" font-size="10.2" fill="#b2b5be" stroke="#b2b5be" stroke-width="0.25" textLength="30.3" lengthAdjust="spacingAndGlyphs">50,000</text>
<text x="972.80" y="441.81" font-size="10.2" fill="#b2b5be" stroke="#b2b5be" stroke-width="0.25" textLength="30.3" lengthAdjust="spacingAndGlyphs">45,000</text>
<text x="972.80" y="465.97" font-size="10.2" fill="#b2b5be" stroke="#b2b5be" stroke-width="0.25" textLength="30.3" lengthAdjust="spacingAndGlyphs">40,000</text>
<text x="972.80" y="490.13" font-size="10.2" fill="#b2b5be" stroke="#b2b5be" stroke-width="0.25" textLength="30.3" lengthAdjust="spacingAndGlyphs">35,000</text>
<text x="972.80" y="514.29" font-size="10.2" fill="#b2b5be" stroke="#b2b5be" stroke-width="0.25" textLength="30.3" lengthAdjust="spacingAndGlyphs">30,000</text>
<text x="972.80" y="538.45" font-size="10.2" fill="#b2b5be" stroke="#b2b5be" stroke-width="0.25" textLength="30.3" lengthAdjust="spacingAndGlyphs">25,000</text>
<rect x="8" y="536" width="1008" height="21" fill="#131621"/>
<text x="60.76" y="551.10" font-size="9.1" fill="#b2b5be" stroke="#b2b5be" stroke-width="0.25" textLength="16.9" lengthAdjust="spacingAndGlyphs">May</text>
<text x="131.65" y="551.10" font-size="9.1" fill="#b2b5be" stroke="#b2b5be" stroke-width="0.25" textLength="11.6" lengthAdjust="spacingAndGlyphs">Jul</text>
<text x="205.92" y="551.10" font-size="9.1" fill="#b2b5be" stroke="#b2b5be" stroke-width="0.25" textLength="16.6" lengthAdjust="spacingAndGlyphs">Sep</text>
<text x="282.54" y="551.10" font-size="9.1" fill="#b2b5be" stroke="#b2b5be" stroke-width="0.25" textLength="16.9" lengthAdjust="spacingAndGlyphs">Nov</text>
<text x="355.91" y="551.00" font-size="9.6" fill="#d1d4dc" stroke="#d1d4dc" stroke-width="0.25" textLength="23.7" lengthAdjust="spacingAndGlyphs" font-weight="bold">2025</text>
<text x="428.05" y="551.10" font-size="9.1" fill="#b2b5be" stroke="#b2b5be" stroke-width="0.25" textLength="15.9" lengthAdjust="spacingAndGlyphs">Mar</text>
<text x="504.32" y="551.10" font-size="9.1" fill="#b2b5be" stroke="#b2b5be" stroke-width="0.25" textLength="16.9" lengthAdjust="spacingAndGlyphs">May</text>
<text x="583.74" y="551.10" font-size="9.1" fill="#b2b5be" stroke="#b2b5be" stroke-width="0.25" textLength="11.6" lengthAdjust="spacingAndGlyphs">Jul</text>
<text x="649.48" y="551.10" font-size="9.1" fill="#b2b5be" stroke="#b2b5be" stroke-width="0.25" textLength="16.6" lengthAdjust="spacingAndGlyphs">Sep</text>
<text x="726.10" y="551.10" font-size="9.1" fill="#b2b5be" stroke="#b2b5be" stroke-width="0.25" textLength="16.9" lengthAdjust="spacingAndGlyphs">Nov</text>
<text x="799.47" y="551.00" font-size="9.6" fill="#d1d4dc" stroke="#d1d4dc" stroke-width="0.25" textLength="23.7" lengthAdjust="spacingAndGlyphs" font-weight="bold">2026</text>
<text x="871.61" y="551.10" font-size="9.1" fill="#b2b5be" stroke="#b2b5be" stroke-width="0.25" textLength="15.9" lengthAdjust="spacingAndGlyphs">Mar</text>
<text x="947.88" y="551.10" font-size="9.1" fill="#b2b5be" stroke="#b2b5be" stroke-width="0.25" textLength="16.9" lengthAdjust="spacingAndGlyphs">May</text>
<rect x="966" y="307.4" width="41.3" height="13" rx="1" fill="#b22833"/>
<text x="972.20" y="316.80" font-size="10" fill="#ffffff" stroke="#ffffff" stroke-width="0.25" textLength="30.4" lengthAdjust="spacingAndGlyphs">68,335</text>
<rect x="966" y="320.5" width="41.4" height="23.3" rx="1" fill="#089981"/>
<text x="971.90" y="329.80" font-size="10" fill="#ffffff" stroke="#ffffff" stroke-width="0.25" textLength="30.9" lengthAdjust="spacingAndGlyphs">68,249</text>
<text x="972.30" y="339.90" font-size="9.8" fill="#ffffff" stroke="#ffffff" stroke-width="0.25" textLength="29.9" lengthAdjust="spacingAndGlyphs" fill-opacity="0.92">3d 17h</text>
<rect x="966" y="489.7" width="42.8" height="12.9" rx="1" fill="#26a69a"/>
<text x="973.20" y="499.10" font-size="10" fill="#ffffff" stroke="#ffffff" stroke-width="0.25" textLength="31.1" lengthAdjust="spacingAndGlyphs">16.38 K</text>
<rect x="968.2" y="23.8" width="45" height="19.3" rx="3" fill="#0f0f0f" stroke="#2e3038" stroke-width="1"/>
<text x="974.80" y="35.90" font-size="9.8" fill="#f0f0f0" stroke="#f0f0f0" stroke-width="0.25" textLength="18.75" lengthAdjust="spacingAndGlyphs">USD</text>
<text x="13.50" y="36.00" font-size="10" fill="#b2b5be" stroke="#b2b5be" stroke-width="0.25" textLength="148" lengthAdjust="spacingAndGlyphs">Bitcoin / U.S. Dollar · 1W · Bitstamp</text>
<text x="168.00" y="36.00" font-size="10" fill="#b2b5be" stroke="#b2b5be" stroke-width="0.25" textLength="6" lengthAdjust="spacingAndGlyphs">O</text>
<text x="174.90" y="36.00" font-size="10" fill="#089981" stroke="#089981" stroke-width="0.25" textLength="26.85" lengthAdjust="spacingAndGlyphs">67,612</text>
<text x="208.00" y="36.00" font-size="10" fill="#b2b5be" stroke="#b2b5be" stroke-width="0.25" textLength="5.6" lengthAdjust="spacingAndGlyphs">H</text>
<text x="214.50" y="36.00" font-size="10" fill="#089981" stroke="#089981" stroke-width="0.25" textLength="29.1" lengthAdjust="spacingAndGlyphs">70,038</text>
<text x="249.60" y="36.00" font-size="10" fill="#b2b5be" stroke="#b2b5be" stroke-width="0.25" textLength="4.5" lengthAdjust="spacingAndGlyphs">L</text>
<text x="254.60" y="36.00" font-size="10" fill="#089981" stroke="#089981" stroke-width="0.25" textLength="29.4" lengthAdjust="spacingAndGlyphs">62,525</text>
<text x="290.30" y="36.00" font-size="10" fill="#b2b5be" stroke="#b2b5be" stroke-width="0.25" textLength="5.8" lengthAdjust="spacingAndGlyphs">C</text>
<text x="296.50" y="36.00" font-size="10" fill="#089981" stroke="#089981" stroke-width="0.25" textLength="30" lengthAdjust="spacingAndGlyphs">68,249</text>
<text x="332.70" y="36.00" font-size="10" fill="#089981" stroke="#089981" stroke-width="0.25" textLength="63.4" lengthAdjust="spacingAndGlyphs">+637 (+0.94%)</text>
<g fill="#e4e4e4">
<path d="M9 574.1H17.9V585.6H13.4V578.75H9Z"/>
<circle cx="21.8" cy="576.5" r="2.3"/>
<path d="M25.3 574.1H31.9L28.1 585.6H22.1Z"/>
<text x="37.1" y="585.6" font-size="15.9" font-weight="bold" textLength="91.2" lengthAdjust="spacingAndGlyphs">TradingView</text>
</g>
</svg>
</body></html>
